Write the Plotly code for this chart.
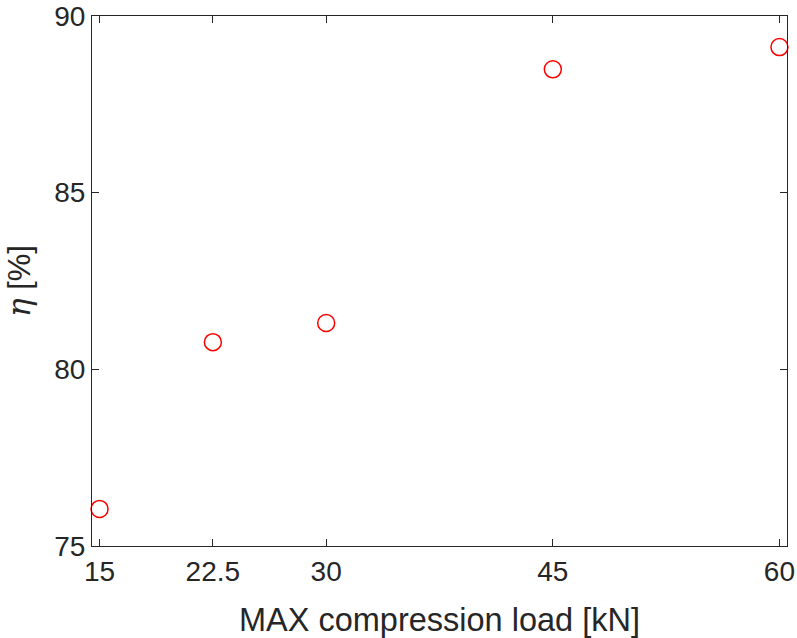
import plotly.graph_objects as go

# Efficiency vs maximum compression load
load_kn = [15, 22.5, 30, 45, 60]
eta_pct = [76.05, 80.77, 81.31, 88.49, 89.12]
x_ticks = [15, 22.5, 30, 45, 60]
x_tick_text = ["15", "22.5", "30", "45", "60"]
y_ticks = [75, 80, 85, 90]

SANS = "Liberation Sans, Arial, Helvetica, sans-serif"
INK = "#262626"

fig = go.Figure(
    go.Scatter(
        x=load_kn,
        y=eta_pct,
        mode="markers",
        marker=dict(symbol="circle-open", size=17, color="#ff0000",
                    line=dict(width=1.5, color="#ff0000")),
        showlegend=False,
        cliponaxis=False,
    )
)

axis_common = dict(
    showgrid=False,
    zeroline=False,
    showline=True,
    linecolor=INK,
    linewidth=1,
    mirror="allticks",
    ticks="inside",
    ticklen=7,
    tickwidth=1,
    tickcolor=INK,
    automargin=False,
    tickfont=dict(family=SANS, size=28, color=INK),
)

fig.update_xaxes(
    range=[14.5, 60.5],
    tickvals=x_ticks,
    ticktext=x_tick_text,
    title=dict(text="MAX compression load [kN]",
               font=dict(family=SANS, size=32.5, color=INK),
               standoff=22),
    **axis_common,
)
fig.update_yaxes(
    range=[75, 90],
    tickvals=y_ticks,
    title=dict(text='<span style="font-family:DejaVu Serif"><i>η</i></span> [%]',
               font=dict(family=SANS, size=31, color=INK),
               standoff=14),
    **axis_common,
)

fig.update_layout(
    width=797,
    height=638,
    margin=dict(l=92, r=10, t=16, b=92),
    paper_bgcolor="white",
    plot_bgcolor="white",
)

fig.write_html("out.html")
